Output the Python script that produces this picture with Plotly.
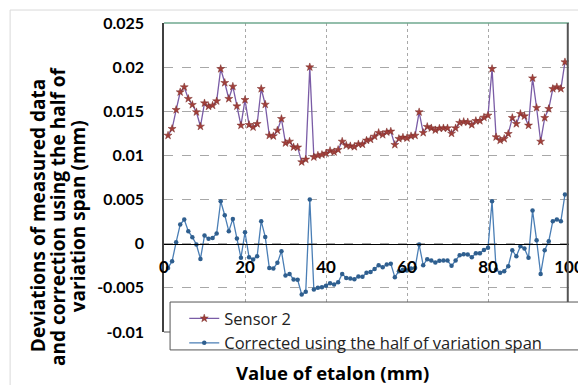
import plotly.graph_objects as go

etalon = list(range(1, 100))

sensor2 = [
    0.01226, 0.01302, 0.01517, 0.01717, 0.01774, 0.01642, 0.01574, 0.01491, 0.01328, 0.01592,
    0.01555, 0.01566, 0.01615, 0.01981, 0.01823, 0.01642, 0.01781, 0.01558, 0.01340, 0.01630,
    0.01347, 0.01320, 0.01358, 0.01755, 0.01577, 0.01226, 0.01219, 0.01283, 0.01415, 0.01140,
    0.01158, 0.01094, 0.01091, 0.00925, 0.00955, 0.02000, 0.00981, 0.01000, 0.01008, 0.01023,
    0.01053, 0.01038, 0.01064, 0.01158, 0.01113, 0.01106, 0.01098, 0.01128, 0.01125, 0.01170,
    0.01181, 0.01215, 0.01257, 0.01234, 0.01264, 0.01272, 0.01121, 0.01189, 0.01204, 0.01196,
    0.01219, 0.01226, 0.01491, 0.01257, 0.01325, 0.01309, 0.01287, 0.01306, 0.01309, 0.01309,
    0.01249, 0.01309, 0.01370, 0.01381, 0.01377, 0.01347, 0.01392, 0.01392, 0.01430, 0.01453,
    0.01981, 0.01208, 0.01170, 0.01189, 0.01245, 0.01426, 0.01358, 0.01472, 0.01445, 0.01340,
    0.01875, 0.01540, 0.01158, 0.01426, 0.01528, 0.01755, 0.01774, 0.01755, 0.02057,
]

corrected = [
    -0.00274, -0.00198, 0.00017, 0.00217, 0.00274, 0.00142, 0.00074, -0.00009, -0.00172, 0.00092,
    0.00055, 0.00066, 0.00115, 0.00481, 0.00323, 0.00142, 0.00281, 0.00058, -0.00160, 0.00130,
    -0.00153, -0.00180, -0.00142, 0.00255, 0.00077, -0.00274, -0.00281, -0.00217, -0.00085, -0.00360,
    -0.00342, -0.00406, -0.00409, -0.00575, -0.00545, 0.00500, -0.00519, -0.00500, -0.00492, -0.00477,
    -0.00447, -0.00462, -0.00436, -0.00342, -0.00387, -0.00394, -0.00402, -0.00372, -0.00375, -0.00330,
    -0.00319, -0.00285, -0.00243, -0.00266, -0.00236, -0.00228, -0.00379, -0.00311, -0.00296, -0.00304,
    -0.00281, -0.00274, -0.00009, -0.00243, -0.00175, -0.00191, -0.00213, -0.00194, -0.00191, -0.00191,
    -0.00251, -0.00191, -0.00130, -0.00119, -0.00123, -0.00153, -0.00108, -0.00108, -0.00070, -0.00047,
    0.00481, -0.00292, -0.00330, -0.00311, -0.00255, -0.00074, -0.00142, -0.00028, -0.00055, -0.00160,
    0.00375, 0.00040, -0.00342, -0.00074, 0.00028, 0.00255, 0.00274, 0.00255, 0.00557,
]

y_tickvals = [-0.01, -0.005, 0, 0.005, 0.01, 0.015, 0.02, 0.025]
y_ticktext = ["-0.01", "-0.005", "0", "0.005", "0.01", "0.015", "0.02", "0.025"]
x_tickvals = [0, 20, 40, 60, 80, 100]
x_ticktext = ["0", "20", "40", "60", "80", "100"]

series_names = ["Sensor 2", "Corrected using the half of variation span"]
x_title = "Value of etalon (mm)"
y_title_lines = ["Deviations of measured data",
                 "and correction using the half of",
                 "variation span (mm)"]

TICK_FONT = "Lato"
TEXT_FONT = "Open Sans"
y_min, y_max = -0.01, 0.025
zero_pos = (0 - y_min) / (y_max - y_min)

fig = go.Figure()
fig.add_trace(go.Scatter(
    x=etalon, y=sensor2, name=series_names[0], mode="lines+markers",
    line=dict(color="#7A5CA6", width=1.3),
    marker=dict(symbol="star", size=6, color="#A23F3A",
                line=dict(color="#7A2E2A", width=0.5)),
))
fig.add_trace(go.Scatter(
    x=etalon, y=corrected, name=series_names[1], mode="lines+markers",
    line=dict(color="#4A7EB5", width=1.3),
    marker=dict(symbol="circle", size=4.5, color="#2F5F8F"),
))

shapes = [
    dict(type="rect", xref="paper", yref="paper", x0=-0.38, x1=1.2, y0=-0.3, y1=1.042,
         line=dict(color="#D9D9D9", width=1), fillcolor="rgba(0,0,0,0)", layer="below"),
    dict(type="line", xref="paper", yref="paper", x0=0, x1=1, y0=1, y1=1,
         line=dict(color="#6FA88F", width=1.5)),
    dict(type="line", xref="paper", yref="paper", x0=0.997, x1=0.997, y0=0, y1=1,
         line=dict(color="#555555", width=2)),
    dict(type="line", xref="paper", yref="paper", x0=0, x1=1, y0=0, y1=0,
         line=dict(color="#555555", width=1)),
    dict(type="rect", xref="paper", yref="paper", x0=0.015, x1=1.2, y0=-0.058, y1=0.097,
         line=dict(color="#555555", width=1), fillcolor="white", layer="above"),
]

y_line_x = [-0.311, -0.262, -0.212]
annotations = [
    dict(text=x_title, xref="paper", yref="paper", x=0.415, y=-0.132,
         showarrow=False, xanchor="center", yanchor="middle",
         font=dict(family=TEXT_FONT, size=18.5, color="black", weight="bold")),
]
for xp, line in zip(y_line_x, y_title_lines):
    annotations.append(dict(
        text=line, xref="paper", yref="paper", x=xp, y=0.375,
        showarrow=False, xanchor="center", yanchor="middle", textangle=-90,
        font=dict(family=TEXT_FONT, size=19, color="black", weight="bold")))

fig.update_layout(
    width=578, height=385,
    margin=dict(l=164, r=9, t=23, b=53, autoexpand=False),
    paper_bgcolor="white", plot_bgcolor="white",
    font=dict(family=TEXT_FONT, color="black"),
    showlegend=True,
    legend=dict(x=0.05, y=0.1, xanchor="left", yanchor="top",
                bgcolor="rgba(0,0,0,0)", borderwidth=0,
                font=dict(family=TEXT_FONT, size=16.5, color="#222222")),
    shapes=shapes,
    xaxis=dict(
        range=[0, 100], tickvals=x_tickvals, ticktext=x_ticktext,
        anchor="free", position=zero_pos,
        showline=True, linecolor="black", linewidth=1,
        showgrid=True, gridcolor="#A8A8A8", griddash="dot", gridwidth=1,
        zeroline=False, ticks="", ticklabelstandoff=8,
        ticklabeloverflow="allow",
        tickfont=dict(family=TICK_FONT, size=17, color="black", weight="bold"),
    ),
    yaxis=dict(
        range=[y_min, y_max], tickvals=y_tickvals, ticktext=y_ticktext,
        showline=True, linecolor="#404040", linewidth=1.5,
        showgrid=True, gridcolor="#A8A8A8", griddash="dash", gridwidth=1,
        zeroline=False, ticks="", ticklabelstandoff=15,
        tickfont=dict(family=TICK_FONT, size=16, color="black", weight="bold"),
    ),
    annotations=annotations,
)

fig.write_html("out.html")
